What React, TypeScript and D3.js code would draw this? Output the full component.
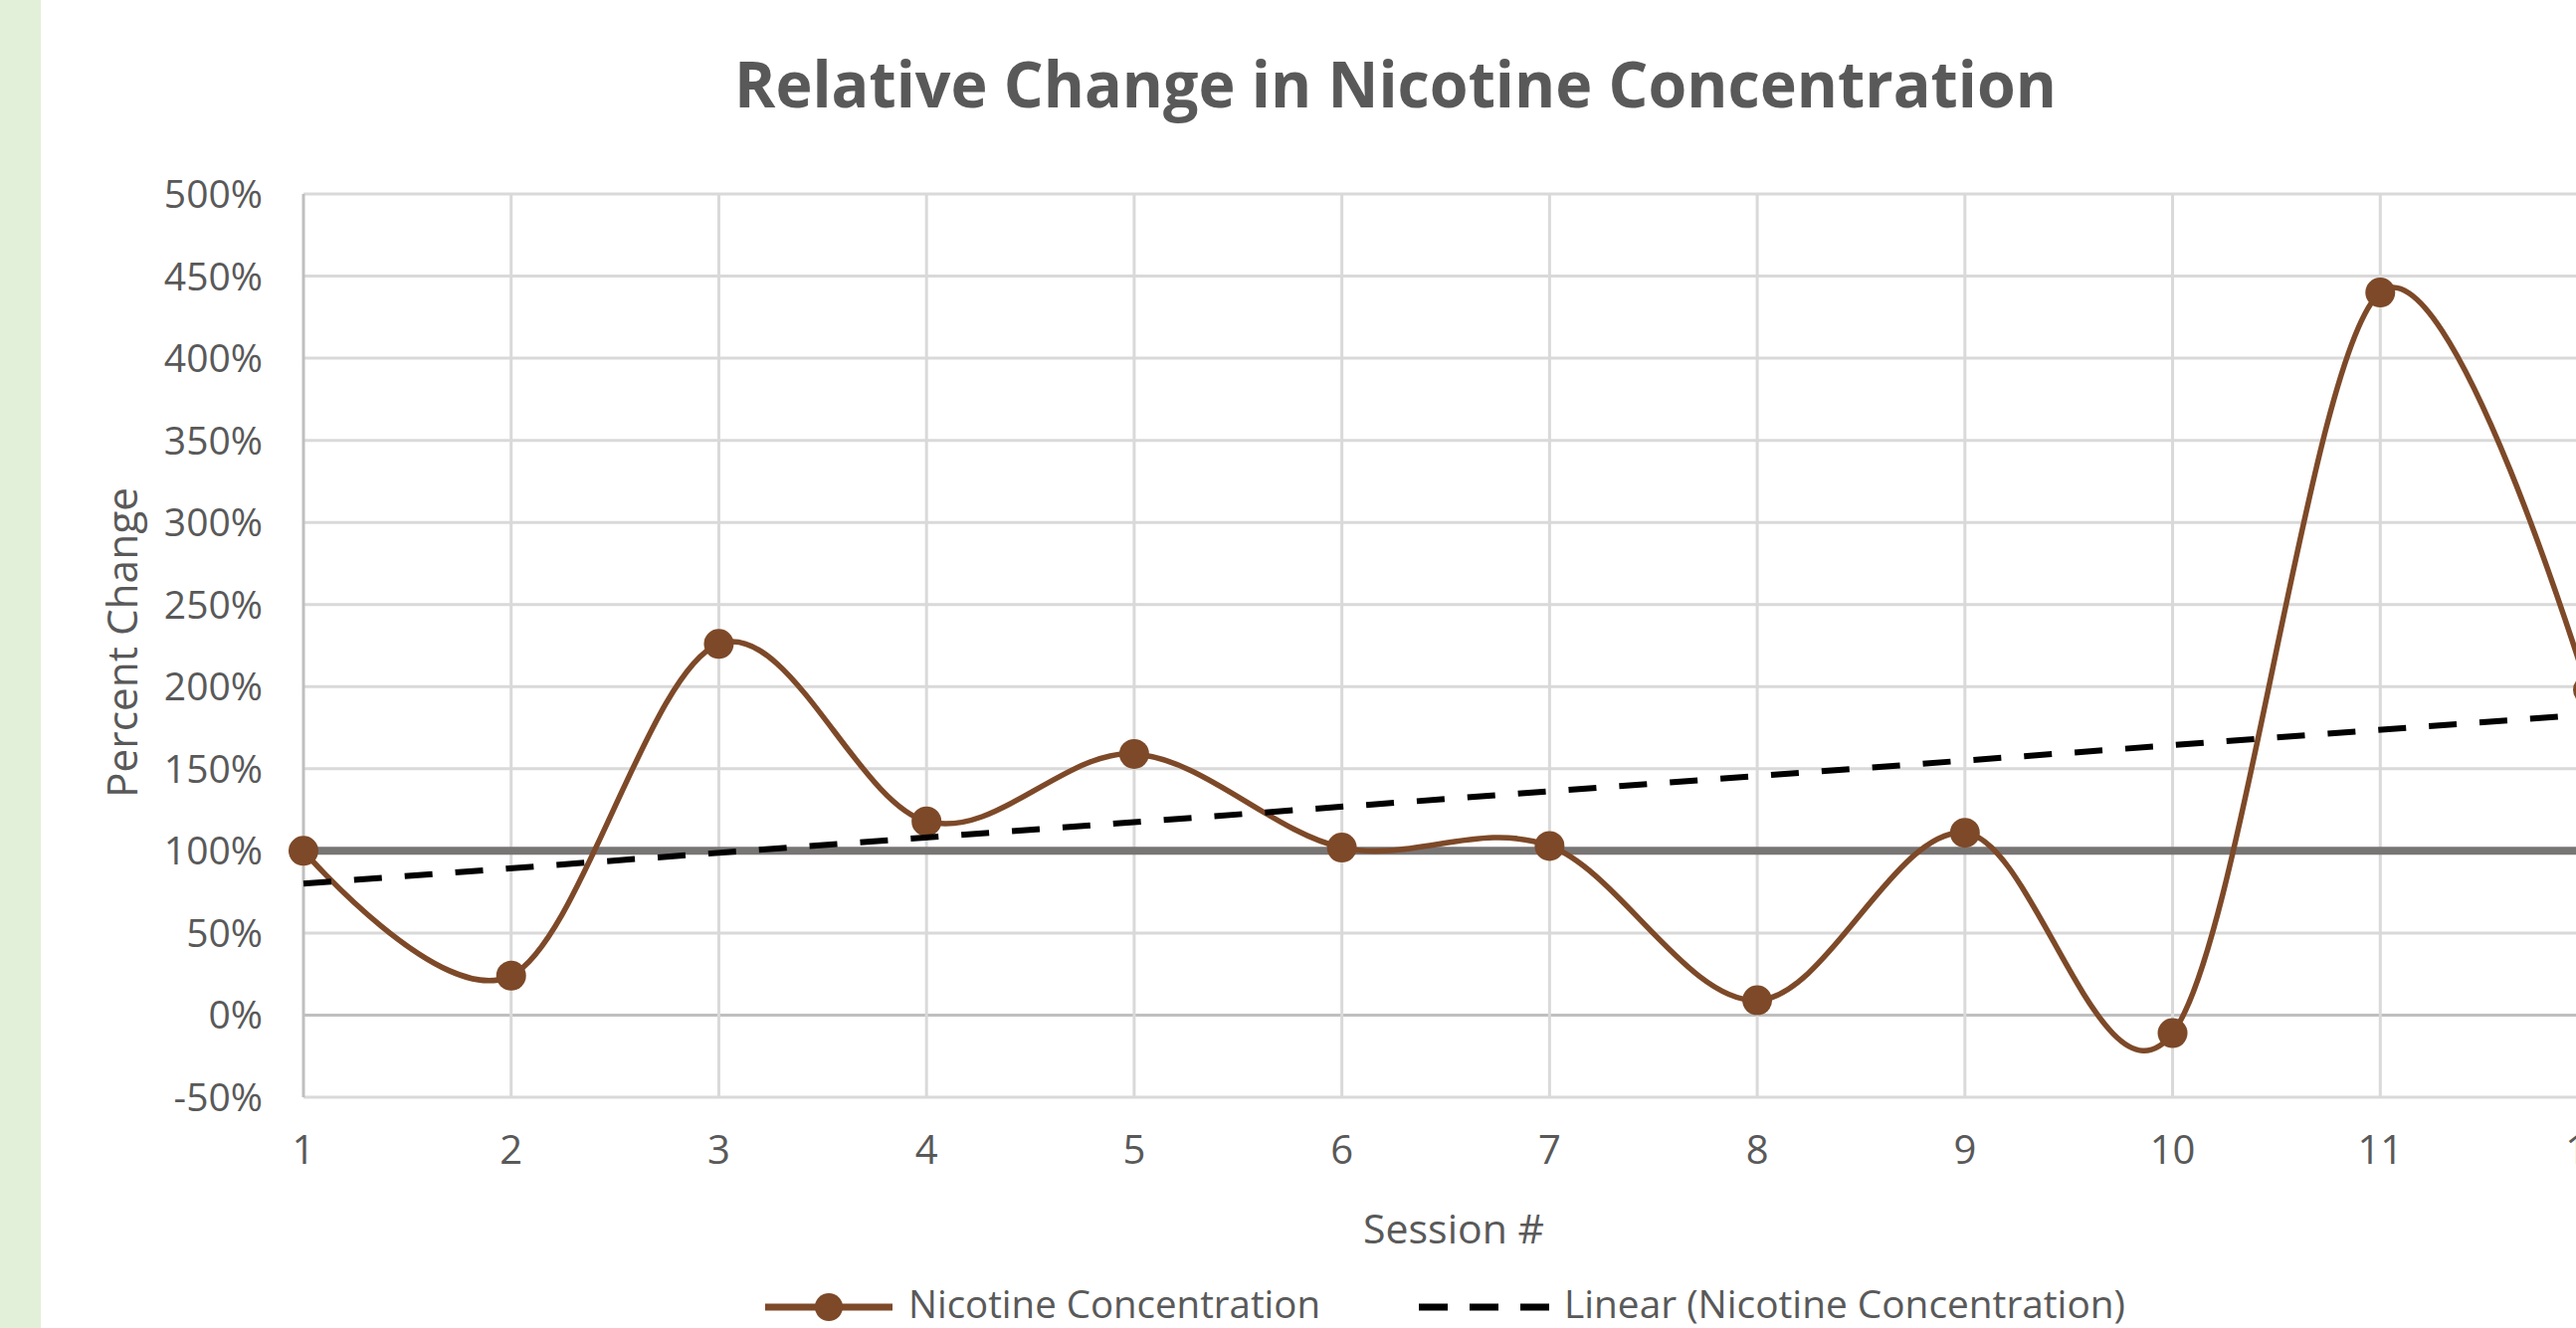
import React from 'react';
import * as d3 from 'd3';

const sessions = [1, 2, 3, 4, 5, 6, 7, 8, 9, 10, 11, 12];
const nicotineChange = [100, 24, 226, 118, 159, 102, 103, 9, 111, -11, 440, 198];
const yTickValues = [-50, 0, 50, 100, 150, 200, 250, 300, 350, 400, 450, 500];
const referenceLevel = 100;
const chartTitle = 'Relative Change in Nicotine Concentration';
const xAxisTitle = 'Session #';
const yAxisTitle = 'Percent Change';
const seriesName = 'Nicotine Concentration';
const trendName = 'Linear (Nicotine Concentration)';

const FONT = "'Open Sans', 'Noto Sans', sans-serif";
const TEXT = '#595959';
const BROWN = '#7d4928';

export default function App() {
  const W = 2589;
  const H = 1335;
  const x = d3.scaleLinear().domain([1, 12]).range([305, 2601]);
  const y = d3.scaleLinear().domain([-50, 500]).range([1103, 195]);

  const pts: [number, number][] = sessions.map((s, i) => [s, nicotineChange[i]]);
  const line = d3
    .line<[number, number]>()
    .x((d) => x(d[0]))
    .y((d) => y(d[1]))
    .curve(d3.curveCatmullRom.alpha(0));

  // least-squares trend line
  const mx = d3.mean(sessions) as number;
  const my = d3.mean(nicotineChange) as number;
  let sxy = 0;
  let sxx = 0;
  sessions.forEach((s, i) => {
    sxy += (s - mx) * (nicotineChange[i] - my);
    sxx += (s - mx) * (s - mx);
  });
  const slope = sxy / sxx;
  const intercept = my - slope * mx;
  const [x0, x1] = x.domain();
  const trend: [number, number][] = [
    [x0, intercept + slope * x0],
    [x1, intercept + slope * x1],
  ];
  const straight = d3
    .line<[number, number]>()
    .x((d) => x(d[0]))
    .y((d) => y(d[1]));

  const [yMin, yMax] = y.domain();

  return (
    <div style={{ position: 'absolute', left: 0, top: 0 }}>
      <svg width={W} height={H} style={{ display: 'block', background: '#fff' }}>
        <rect x={0} y={0} width={41} height={H} fill="#e2f0d9" />

        {/* horizontal gridlines */}
        {yTickValues.map((v) => (
          <line
            key={'h' + v}
            x1={x(x0)}
            x2={x(x1)}
            y1={y(v)}
            y2={y(v)}
            stroke={v === 0 ? '#bfbfbf' : '#d9d9d9'}
            strokeWidth={3}
          />
        ))}
        {/* vertical gridlines */}
        {sessions.map((s) => (
          <line
            key={'v' + s}
            x1={x(s)}
            x2={x(s)}
            y1={y(yMax)}
            y2={y(yMin)}
            stroke={s === 1 ? '#bfbfbf' : '#d9d9d9'}
            strokeWidth={3}
          />
        ))}

        {/* y tick labels */}
        {yTickValues.map((v) => (
          <text
            key={'yl' + v}
            x={264}
            y={y(v) + 14}
            textAnchor="end"
            fontFamily={FONT}
            fontSize={39}
            fill={TEXT}
          >
            {v + '%'}
          </text>
        ))}
        {/* x tick labels */}
        {sessions.map((s) => (
          <text
            key={'xl' + s}
            x={x(s)}
            y={1170}
            textAnchor="middle"
            fontFamily={FONT}
            fontSize={40}
            fill={TEXT}
          >
            {String(s)}
          </text>
        ))}

        {/* 100% reference line */}
        <line
          x1={x(x0)}
          x2={x(x1)}
          y1={y(referenceLevel)}
          y2={y(referenceLevel)}
          stroke="#787575"
          strokeWidth={8}
        />

        {/* series */}
        <path d={line(pts) || ''} fill="none" stroke={BROWN} strokeWidth={5.5} />
        {pts.map((d) => (
          <circle key={'m' + d[0]} cx={x(d[0])} cy={y(d[1])} r={15} fill={BROWN} />
        ))}

        {/* trend */}
        <path
          d={straight(trend) || ''}
          fill="none"
          stroke="#000"
          strokeWidth={6}
          strokeDasharray="28 23"
        />

        {/* title */}
        <text
          x={738}
          y={108}
          fontFamily={FONT}
          fontWeight="bold"
          fontSize={64}
          fill={TEXT}
          textLength={1329}
          lengthAdjust="spacingAndGlyphs"
        >
          {chartTitle}
        </text>

        {/* axis titles */}
        <text
          x={1370}
          y={1250}
          fontFamily={FONT}
          fontSize={40}
          fill={TEXT}
          textLength={182}
          lengthAdjust="spacingAndGlyphs"
        >
          {xAxisTitle}
        </text>
        <text
          transform="translate(138,646) rotate(-90)"
          textAnchor="middle"
          fontFamily={FONT}
          fontSize={42}
          fill={TEXT}
          textLength={312}
          lengthAdjust="spacingAndGlyphs"
        >
          {yAxisTitle}
        </text>

        {/* legend */}
        <line x1={769} x2={897} y1={1314} y2={1314} stroke={BROWN} strokeWidth={7} />
        <circle cx={833} cy={1314} r={14} fill={BROWN} />
        <text
          x={913}
          y={1325}
          fontFamily={FONT}
          fontSize={39}
          fill={TEXT}
          textLength={414}
          lengthAdjust="spacingAndGlyphs"
        >
          {seriesName}
        </text>
        <line
          x1={1426}
          x2={1557}
          y1={1314}
          y2={1314}
          stroke="#000"
          strokeWidth={7}
          strokeDasharray="29 22"
        />
        <text
          x={1572}
          y={1325}
          fontFamily={FONT}
          fontSize={39}
          fill={TEXT}
          textLength={564}
          lengthAdjust="spacingAndGlyphs"
        >
          {trendName}
        </text>
      </svg>
    </div>
  );
}
